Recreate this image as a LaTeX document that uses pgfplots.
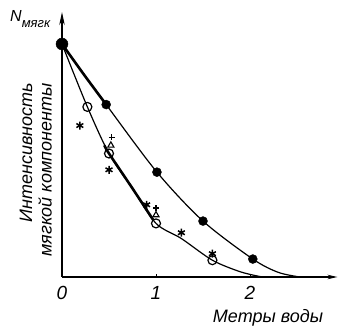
\documentclass[border=0pt]{standalone}
\usepackage{pgfplots}
\pgfplotsset{compat=1.18}
\usetikzlibrary{arrows.meta}
\usepackage{fontspec}
\setmainfont{Liberation Sans}
\begin{document}
\begin{tikzpicture}
\useasboundingbox (-62pt,-51pt) rectangle (276pt,277pt);
\begin{axis}[
 x=94pt, y=233pt,
 xmin=0, xmax=2.93, ymin=0, ymax=1.137,
 axis lines=left,
 axis line style={line width=1.1pt},
 every outer x axis line/.append style={-{Stealth[length=10pt,width=4.5pt]}},
 every outer y axis line/.append style={-{Stealth[length=13pt,width=5.5pt]}},
 xtick={0,1,2}, xticklabels={0,1,2},
 ytick=\empty,
 tick align=inside,
 major tick length=3pt,
 tick style={line width=0.8pt, black},
 xticklabel style={font=\fontsize{19}{19}\selectfont\itshape, yshift=-6pt},
 /pgf/number format/assume math mode=true,
 clip=false,
]
% upper curve
\addplot[line width=1.2pt, smooth] coordinates {(0,1)(0.47,0.74)(1.01,0.45)(1.5,0.24)(2.03,0.077)(2.3,0.02)(2.53,0)};
\addplot[line width=2.6pt, smooth] coordinates {(0,1)(0.24,0.865)(0.47,0.74)};
% lower curve
\addplot[line width=1.2pt, smooth] coordinates {(0,1)(0.27,0.73)(0.5,0.53)(0.75,0.38)(1.0,0.23)(1.27,0.165)(1.6,0.072)(1.9,0.022)(2.13,0)};
\addplot[line width=2.6pt, smooth] coordinates {(0.45,0.565)(0.5,0.53)(0.75,0.38)(0.97,0.245)};
% filled circles
\addplot[only marks, mark=*, mark size=6pt] coordinates {(0,1)};
\addplot[only marks, mark=*, mark size=4.5pt] coordinates {(0.47,0.74)(1.01,0.45)(1.5,0.24)(2.03,0.077)};
% open circles
\addplot[only marks, mark=o, mark size=4.5pt, mark options={fill=white, line width=1.2pt}] coordinates {(0.27,0.73)(0.5,0.53)(1.0,0.23)(1.6,0.072)};
% asterisks
\addplot[only marks, mark=asterisk, mark size=4pt, mark options={line width=1.5pt}] coordinates {(0.19,0.65)(0.5,0.46)(0.9,0.31)(1.27,0.19)(1.6,0.10)};
% triangles
\addplot[only marks, mark=triangle, mark size=3.5pt, mark options={fill=white, line width=1.1pt}] coordinates {(0.52,0.565)(1.0,0.266)};
% pluses
\addplot[only marks, mark=+, mark size=3pt, mark options={line width=1.1pt}] coordinates {(0.53,0.60)(1.0,0.296)};
\end{axis}
\node[anchor=base west, inner sep=0pt] at (-52pt,255pt) {\fontsize{16}{16}\selectfont\itshape N\raisebox{-6pt}{\fontsize{13}{13}\selectfont мягк}};
\node[rotate=90, anchor=east, inner sep=0pt] at (-36pt,194pt) {\fontsize{18}{18}\selectfont\itshape Интенсивность};
\node[rotate=90, anchor=east, inner sep=0pt] at (-17pt,194pt) {\fontsize{18}{18}\selectfont\itshape мягкой компоненты};
\node[inner sep=0pt] at (206pt,-41pt) {\fontsize{18}{18}\selectfont\itshape Метры воды};
\end{tikzpicture}
\end{document}
